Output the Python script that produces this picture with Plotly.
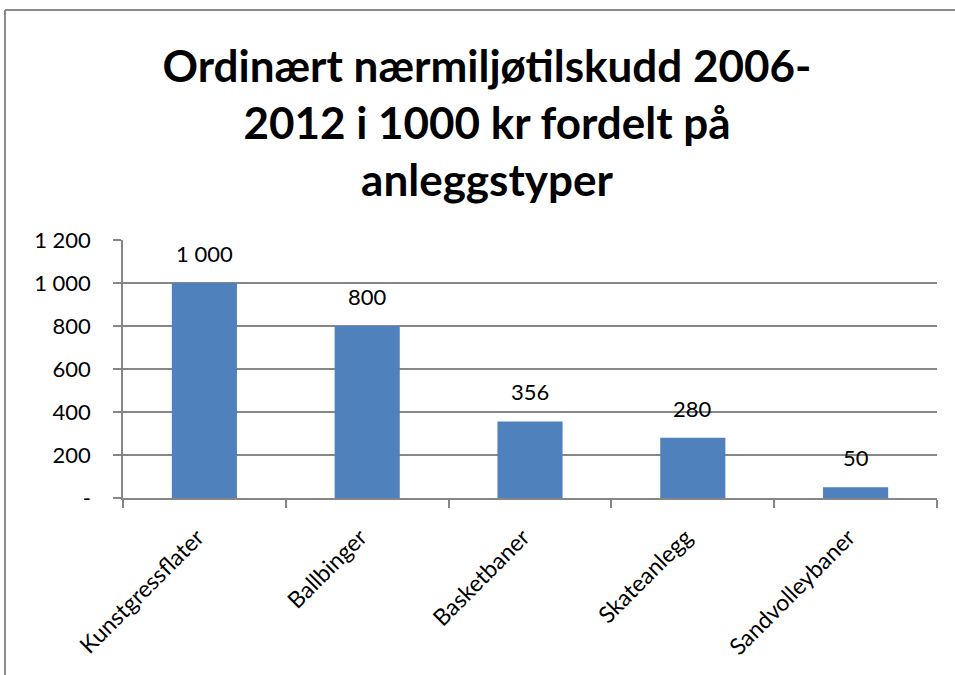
import plotly.graph_objects as go

categories = ["Kunstgressflater", "Ballbinger", "Basketbaner", "Skateanlegg", "Sandvolleybaner"]
values = [1000, 800, 356, 280, 50]
ytick_vals = [0, 200, 400, 600, 800, 1000, 1200]
ytick_text = ["-", "200", "400", "600", "800", "1 000", "1 200"]
title_text = "Ordinært nærmiljøtilskudd 2006-<br>2012 i 1000 kr fordelt på<br>anleggstyper"

bar_labels = [f"{v:,}".replace(",", " ") for v in values]

FONT = "Lato, Carlito, Calibri, sans-serif"
GRID = "#868686"
W, H = 955, 675
ML, MR, MT, MB = 123, 18, 240, 177
PW, PH = W - ML - MR, H - MT - MB

fig = go.Figure(
    go.Bar(
        x=categories,
        y=values,
        marker=dict(color="#4F81BD", line=dict(width=0)),
        width=0.4,
        hoverinfo="skip",
    )
)

for c, v, lab in zip(categories, values, bar_labels):
    fig.add_annotation(
        x=c, y=v, xref="x", yref="y",
        text=lab, showarrow=False,
        yanchor="bottom", yshift=14,
        font=dict(family=FONT, size=22, color="black"),
    )

fig.update_layout(
    width=W,
    height=H,
    margin=dict(l=ML, r=MR, t=MT, b=MB),
    paper_bgcolor="white",
    plot_bgcolor="white",
    showlegend=False,
    title=dict(
        text=title_text,
        x=487 / W,
        xanchor="center",
        xref="container",
        y=1 - 82 / H,
        yref="container",
        yanchor="top",
        font=dict(family=FONT, size=44, color="black", weight="bold"),
    ),
    font=dict(family=FONT, color="black"),
)

fig.update_yaxes(
    range=[0, 1200],
    tickvals=ytick_vals,
    ticktext=ytick_text,
    showgrid=True,
    gridcolor=GRID,
    gridwidth=1.5,
    showline=True,
    linecolor=GRID,
    linewidth=1.5,
    ticks="outside",
    ticklen=8,
    tickcolor=GRID,
    tickwidth=1.5,
    tickfont=dict(family=FONT, size=22, color="black"),
    ticklabelstandoff=18,
    zeroline=False,
)

fig.update_xaxes(
    showline=True,
    linecolor=GRID,
    linewidth=1.5,
    ticks="outside",
    ticklen=8,
    tickcolor=GRID,
    tickwidth=1.5,
    tickson="boundaries",
    tickangle=-45,
    tickfont=dict(family=FONT, size=23, color="black"),
    ticklabelstandoff=15,
    ticklabelshift=-7,
    showgrid=False,
)

# outer chart frame: top and left edges (the rest lies beyond the visible area)
top_y = (H - MB - 10) / PH
left_x = (5 - ML) / PW
fig.add_shape(
    type="line", xref="paper", yref="paper",
    x0=left_x, x1=1.3, y0=top_y, y1=top_y,
    line=dict(color="#8A8A8A", width=2),
    layer="above",
)
fig.add_shape(
    type="line", xref="paper", yref="paper",
    x0=left_x, x1=left_x, y0=-1.0, y1=top_y,
    line=dict(color="#8A8A8A", width=2),
    layer="above",
)

fig.write_html(
    "out.html",
    config={"displayModeBar": False},
    post_script="document.body.style.margin='0';document.body.style.overflow='hidden';",
)
